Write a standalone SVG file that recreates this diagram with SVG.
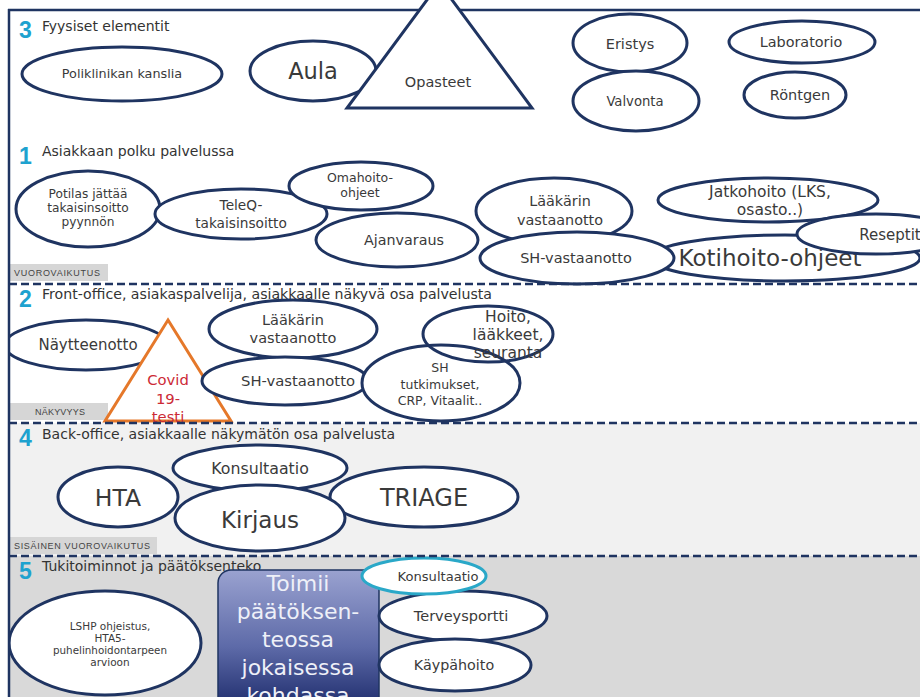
<svg xmlns="http://www.w3.org/2000/svg" width="920" height="697" viewBox="0 0 920 697">
  <style>
    .node { fill: #ffffff; stroke: #1f3461; stroke-width: 3; }
    .open { fill: none; stroke: #1f3461; stroke-width: 3; }
    .t { font-family: "DejaVu Sans", Verdana, sans-serif; fill: #3a3a3a; text-anchor: middle; }
    .head { font-family: "DejaVu Sans", Verdana, sans-serif; fill: #333333; font-size: 14px; }
    .num { font-family: "Liberation Sans", Arial, sans-serif; font-weight: bold; fill: #1ea2cf; font-size: 23px; }
    .tag { fill: #d6d6d6; }
    .tagt { font-family: "Liberation Sans", Arial, sans-serif; fill: #444444; font-size: 9px; }
    .dash { stroke: #1f3461; stroke-width: 2.5; stroke-dasharray: 8 4; fill: none; }
  </style>
  <defs>
    <linearGradient id="boxGrad" x1="0" y1="0" x2="0" y2="1">
      <stop offset="0" stop-color="#9aa2d0"/>
      <stop offset="0.55" stop-color="#5d6aa8"/>
      <stop offset="1" stop-color="#1c2a6a"/>
    </linearGradient>
  </defs>

  <!-- section backgrounds -->
  <rect x="0" y="0" width="920" height="697" fill="#ffffff"/>
  <rect x="9" y="423" width="911" height="133" fill="#f1f1f1"/>
  <rect x="9" y="556" width="911" height="141" fill="#d9d9d9"/>

  <!-- frame -->
  <line x1="8" y1="10" x2="920" y2="10" stroke="#1f3461" stroke-width="2.5"/>

  <!-- section headings -->
  <text class="num" x="19" y="38">3</text>
  <text class="head" x="42" y="31">Fyysiset elementit</text>
  <text class="num" x="19" y="164">1</text>
  <text class="head" x="42" y="156">Asiakkaan polku palvelussa</text>
  <text class="num" x="19" y="307">2</text>
  <text class="head" x="42" y="299" textLength="450" lengthAdjust="spacingAndGlyphs">Front-office, asiakaspalvelija,  asiakkaalle näkyvä osa palvelusta</text>
  <text class="num" x="19" y="446">4</text>
  <text class="head" x="42" y="439">Back-office, asiakkaalle näkymätön osa palvelusta</text>
  <text class="num" x="19" y="579">5</text>
  <text class="head" x="42" y="571">Tukitoiminnot ja päätöksenteko</text>

  <!-- section tags -->
  <rect class="tag" x="10" y="264" width="98" height="17"/>
  <text class="tagt" x="14" y="276" textLength="86">VUOROVAIKUTUS</text>
  <rect class="tag" x="10" y="403" width="98" height="17"/>
  <text class="tagt" x="35" y="415" textLength="50">NÄKYVYYS</text>
  <rect class="tag" x="10" y="537" width="147" height="17"/>
  <text class="tagt" x="14" y="549" textLength="136">SISÄINEN VUOROVAIKUTUS</text>

  <!-- section 3: physical elements -->
  <g id="poliklinikan-kanslia">
    <ellipse class="node" cx="122" cy="74" rx="100" ry="27"/>
    <text class="t" x="122" y="78" font-size="12.8">Poliklinikan  kanslia</text>
  </g>
  <g id="aula">
    <ellipse class="node" cx="313" cy="71" rx="63" ry="30"/>
    <text class="t" x="313" y="79" font-size="22.5">Aula</text>
  </g>
  <g id="opasteet">
    <polygon class="node" points="439.5,-17 532,108 347,108" stroke-linejoin="miter"/>
    <text class="t" x="438" y="87" font-size="14.5">Opasteet</text>
  </g>
  <g id="eristys">
    <ellipse class="node" cx="630" cy="43" rx="57" ry="29"/>
    <text class="t" x="630" y="49" font-size="14.5">Eristys</text>
  </g>
  <g id="valvonta">
    <ellipse class="node" cx="636" cy="101" rx="63" ry="30"/>
    <text class="t" x="635" y="106" font-size="13.2">Valvonta</text>
  </g>
  <g id="laboratorio">
    <ellipse class="node" cx="802" cy="42" rx="73" ry="21"/>
    <text class="t" x="801" y="47" font-size="14.4">Laboratorio</text>
  </g>
  <g id="rontgen">
    <ellipse class="node" cx="795" cy="95" rx="51" ry="23"/>
    <text class="t" x="800" y="100" font-size="14.5">Röntgen</text>
  </g>

  <!-- section 1: customer path -->
  <g id="potilas">
    <ellipse class="node" cx="88" cy="209" rx="72" ry="38"/>
    <text class="t" x="88" y="198" font-size="12.2">Potilas jättää</text>
    <text class="t" x="88" y="212" font-size="12.2">takaisinsoitto</text>
    <text class="t" x="88" y="226" font-size="12.2">pyynnön</text>
  </g>
  <g id="teleq">
    <ellipse class="node" cx="241" cy="214" rx="86" ry="25"/>
    <text class="t" x="241" y="210" font-size="13.7">TeleQ-</text>
    <text class="t" x="241" y="228" font-size="13.7">takaisinsoitto</text>
  </g>
  <g id="omahoito">
    <ellipse class="node" cx="361" cy="186" rx="72" ry="24"/>
    <text class="t" x="360" y="182" font-size="12.5">Omahoito-</text>
    <text class="t" x="360" y="197" font-size="12.5">ohjeet</text>
  </g>
  <g id="ajanvaraus">
    <ellipse class="node" cx="397" cy="240" rx="81" ry="27"/>
    <text class="t" x="404" y="245" font-size="14.3">Ajanvaraus</text>
  </g>
  <g id="laakarin-1">
    <ellipse class="node" cx="554" cy="211" rx="78" ry="33"/>
    <text class="t" x="560" y="206" font-size="14.4">Lääkärin</text>
    <text class="t" x="560" y="225" font-size="14.4">vastaanotto</text>
  </g>
  <g id="jatkohoito">
    <ellipse class="node" cx="768" cy="200" rx="110" ry="22"/>
    <text class="t" x="770" y="197" font-size="15.5">Jatkohoito (LKS,</text>
    <text class="t" x="770" y="215" font-size="15.5">osasto..)</text>
  </g>
  <g id="kotihoito">
    <ellipse class="node" cx="785" cy="258" rx="135" ry="23"/>
    <text class="t" x="770" y="266" font-size="23">Kotihoito-ohjeet</text>
  </g>
  <g id="reseptit">
    <ellipse class="node" cx="876" cy="234" rx="79" ry="20"/>
    <text class="t" x="890" y="240" font-size="15">Reseptit</text>
  </g>
  <g id="sh-vastaanotto-1">
    <ellipse class="node" cx="577" cy="258" rx="97" ry="26"/>
    <text class="t" x="576" y="263" font-size="14.5">SH-vastaanotto</text>
  </g>

  <!-- section 2: front office -->
  <g id="naytteenotto">
    <ellipse class="node" cx="86" cy="345" rx="81" ry="25"/>
    <text class="t" x="88" y="350" font-size="15">Näytteenotto</text>
  </g>
  <g id="covid">
    <polygon points="168,320 231,421 105,421" fill="#ffffff" stroke="#e5782a" stroke-width="3"/>
    <text class="t" x="168" y="385" font-size="14.8" style="fill:#cc2a36">Covid</text>
    <text class="t" x="168" y="404" font-size="14.8" style="fill:#cc2a36">19-</text>
    <text class="t" x="168" y="422" font-size="14.8" style="fill:#cc2a36">testi</text>
  </g>
  <g id="laakarin-2">
    <ellipse class="node" cx="293" cy="329" rx="84" ry="29"/>
    <text class="t" x="293" y="325" font-size="14.5">Lääkärin</text>
    <text class="t" x="293" y="343" font-size="14.5">vastaanotto</text>
  </g>
  <g id="sh-vastaanotto-2">
    <ellipse class="node" cx="285" cy="381" rx="83" ry="24"/>
    <text class="t" x="298" y="386" font-size="14.8">SH-vastaanotto</text>
  </g>
  <g id="sh-tutkimukset">
    <ellipse class="node" cx="441" cy="383" rx="79" ry="38"/>
    <text class="t" x="440" y="372" font-size="12.5">SH</text>
    <text class="t" x="440" y="389" font-size="12.5">tutkimukset,</text>
    <text class="t" x="440" y="405" font-size="12.5">CRP, Vitaalit..</text>
  </g>
  <g id="hoito">
    <ellipse class="open" cx="488" cy="334" rx="65" ry="28"/>
    <text class="t" x="508" y="322" font-size="15.5">Hoito,</text>
    <text class="t" x="508" y="340" font-size="15.5">lääkkeet,</text>
    <text class="t" x="508" y="358" font-size="15.5">seuranta</text>
  </g>

  <!-- section 4: back office -->
  <g id="konsultaatio-4">
    <ellipse class="node" cx="260" cy="468" rx="87" ry="23"/>
    <text class="t" x="260" y="474" font-size="15.8">Konsultaatio</text>
  </g>
  <g id="hta">
    <ellipse class="node" cx="118" cy="497" rx="60" ry="30"/>
    <text class="t" x="118" y="506" font-size="23.5">HTA</text>
  </g>
  <g id="triage">
    <ellipse class="node" cx="424" cy="497" rx="94" ry="30"/>
    <text class="t" x="424" y="506" font-size="24">TRIAGE</text>
  </g>
  <g id="kirjaus">
    <ellipse class="node" cx="260" cy="518" rx="85" ry="33"/>
    <text class="t" x="260" y="528" font-size="23">Kirjaus</text>
  </g>

  <!-- section 5: support and decision making -->
  <g id="lshp">
    <ellipse class="node" cx="105" cy="643" rx="96" ry="52"/>
    <text class="t" x="110" y="630" font-size="10.5">LSHP ohjeistus,</text>
    <text class="t" x="110" y="642" font-size="10.5">HTA5-</text>
    <text class="t" x="110" y="654" font-size="10.5" textLength="114" lengthAdjust="spacingAndGlyphs">puhelinhoidontarpeen</text>
    <text class="t" x="110" y="666" font-size="10.5">arvioon</text>
  </g>
  <g id="paatoksenteko">
    <rect x="218" y="570" width="161" height="140" rx="13" fill="url(#boxGrad)" stroke="#1f3461" stroke-width="1.5"/>
    <g class="t" font-size="22" style="fill:#eef0f8">
      <text x="298" y="591">Toimii</text>
      <text x="298" y="619">päätöksen-</text>
      <text x="298" y="647">teossa</text>
      <text x="298" y="675">jokaisessa</text>
      <text x="298" y="703">kohdassa</text>
    </g>
  </g>
  <g id="terveysportti">
    <ellipse class="node" cx="463" cy="616" rx="84" ry="25"/>
    <text class="t" x="461" y="621" font-size="14.5">Terveysportti</text>
  </g>
  <g id="kaypahoito">
    <ellipse class="node" cx="455" cy="665" rx="76" ry="26"/>
    <text class="t" x="454" y="670" font-size="14.3">Käypähoito</text>
  </g>
  <g id="konsultaatio-5">
    <ellipse cx="424" cy="576" rx="62" ry="18" fill="#ffffff" stroke="#2aa8c8" stroke-width="3"/>
    <text class="t" x="438" y="581" font-size="13.1">Konsultaatio</text>
  </g>

  <!-- section dividers -->
  <g id="connectors">
    <line class="dash" x1="9" y1="284" x2="920" y2="284"/>
    <line class="dash" x1="9" y1="423" x2="920" y2="423"/>
    <line class="dash" x1="9" y1="556" x2="920" y2="556"/>
  </g>

  <!-- left frame edge -->
  <rect x="0" y="0" width="8" height="697" fill="#ffffff"/>
  <line x1="9" y1="9" x2="9" y2="697" stroke="#1f3461" stroke-width="2.5"/>
</svg>
